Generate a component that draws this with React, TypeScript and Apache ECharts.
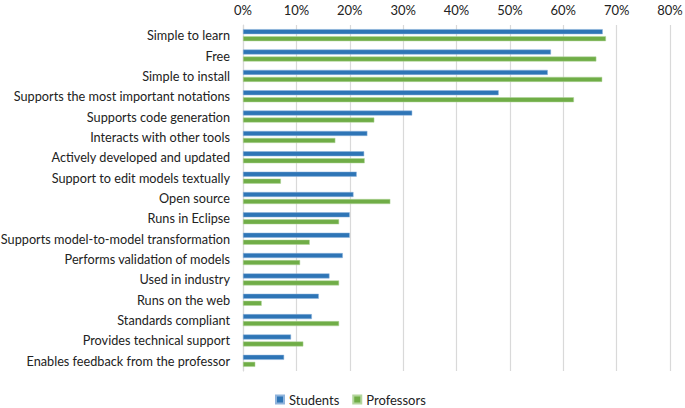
import React, { useEffect, useRef } from "react";
import * as echarts from "echarts";

const categories = [
  "Simple to learn",
  "Free",
  "Simple to install",
  "Supports the most important notations",
  "Supports code generation",
  "Interacts with other tools",
  "Actively developed and updated",
  "Support to edit models textually",
  "Open source",
  "Runs in Eclipse",
  "Supports model-to-model transformation",
  "Performs validation of models",
  "Used in industry",
  "Runs on the web",
  "Standards compliant",
  "Provides technical support",
  "Enables feedback from the professor",
];

const students = [67.4, 57.7, 57.1, 47.9, 31.7, 23.3, 22.7, 21.3, 20.7, 20.0, 20.0, 18.7, 16.2, 14.2, 12.9, 9.0, 7.7];
const professors = [68.0, 66.2, 67.3, 62.0, 24.6, 17.3, 22.8, 7.1, 27.6, 18.0, 12.5, 10.7, 18.0, 3.5, 18.0, 11.3, 2.3];

const FONT = "Lato";

export default function App() {
  const ref = useRef<HTMLDivElement>(null);
  useEffect(() => {
    if (!ref.current) return;
    const chart = echarts.init(ref.current, null, { renderer: "svg" });
    chart.setOption({
      animation: false,
      textStyle: { fontFamily: FONT },
      grid: { left: 243, right: 15, top: 25, bottom: 37, containLabel: false, outerBoundsMode: "none" },
      legend: {
        bottom: 2,
        left: 275,
        padding: 0,
        itemWidth: 8,
        itemHeight: 8,
        itemGap: 13,
        icon: "rect",
        textStyle: { fontFamily: FONT, fontSize: 13, color: "#222" },
        data: ["Students", "Professors"],
      },
      xAxis: {
        type: "value",
        position: "top",
        min: 0,
        max: 80,
        interval: 10,
        axisLabel: { formatter: "{value}%", fontSize: 13, color: "#222", margin: 9, fontFamily: FONT },
        axisLine: { show: false },
        axisTick: { show: false },
        splitLine: { lineStyle: { color: "#d9d9d9", width: 1.2 } },
      },
      yAxis: {
        type: "category",
        inverse: true,
        data: categories,
        axisLabel: { fontSize: 12.7, color: "#222", margin: 13, fontFamily: FONT },
        axisLine: { show: true, lineStyle: { color: "#d9d9d9", width: 1.2 } },
        axisTick: { show: false },
      },
      series: [
        {
          name: "Students",
          type: "bar",
          data: students,
          barWidth: 5,
          barGap: "40%",
          itemStyle: { color: "#2E75B6", borderColor: "#8fb4dc", borderWidth: 0.5 },
        },
        {
          name: "Professors",
          type: "bar",
          data: professors,
          barWidth: 5,
          barGap: "40%",
          itemStyle: { color: "#70AD47", borderColor: "#b3d69c", borderWidth: 0.5 },
        },
      ],
    });
    return () => chart.dispose();
  }, []);
  return <div ref={ref} style={{ position: "absolute", left: 0, top: 0, width: 685, height: 408 }} />;
}
